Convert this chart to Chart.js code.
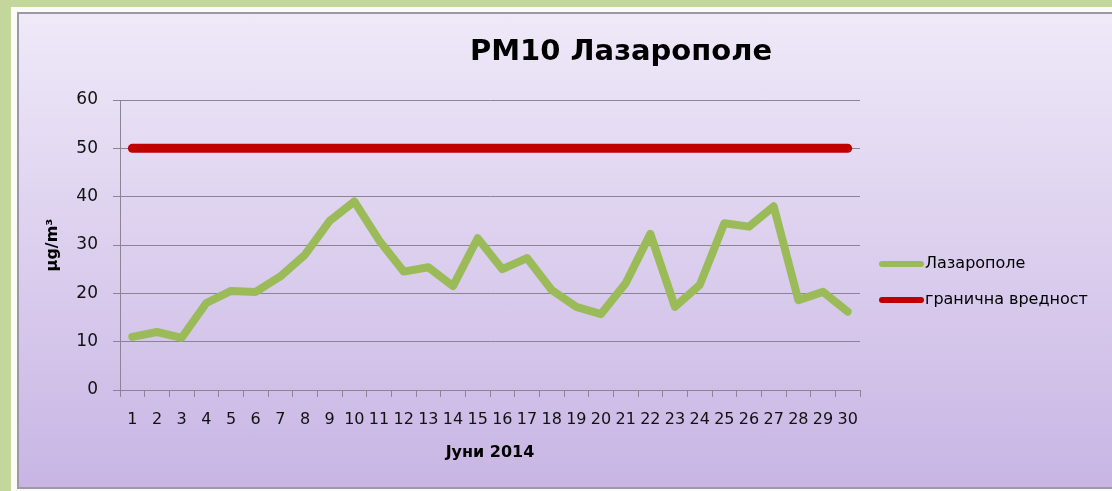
<!DOCTYPE html>
<html>
<head>
<meta charset="utf-8">
<script src="https://cdn.jsdelivr.net/npm/chart.js@4.4.1/dist/chart.umd.min.js"></script>
<style>
  html, body { margin: 0; padding: 0; }
  body { width: 1112px; height: 491px; background: #c3d69b; overflow: hidden; position: relative; }
  #white { position: absolute; left: 11px; top: 7px; width: 1101px; height: 484px; background: #fbfbf8; }
  #frame {
    position: absolute; left: 17px; top: 12px; width: 1095px; height: 473px;
    border-left: 2px solid #9c98a6; border-top: 2px solid #9c98a6; border-bottom: 2px solid #9c98a6;
    background: linear-gradient(#efe9f8, #c8b5e4);
  }
  #chart_div { position: absolute; left: 0; top: 0; width: 1093px; height: 473px; }
</style>
</head>
<body>
<div id="white"></div>
<div id="frame"><div id="chart_div"><canvas id="grafico"></canvas></div></div>
<script>
// дата
const dani = ['1','2','3','4','5','6','7','8','9','10','11','12','13','14','15',
  '16','17','18','19','20','21','22','23','24','25','26','27','28','29','30'];
const lazaropole = [11, 12, 10.8, 18, 20.5, 20.3, 23.5, 28, 35, 39, 31, 24.5, 25.4, 21.5, 31.4,
  25, 27.3, 20.7, 17.2, 15.7, 22.1, 32.3, 17.2, 21.7, 34.5, 33.8, 38, 18.6, 20.3, 16.2];
const granica = [50, 50, 50, 50, 50, 50, 50, 50, 50, 50, 50, 50, 50, 50, 50,
  50, 50, 50, 50, 50, 50, 50, 50, 50, 50, 50, 50, 50, 50, 50];
const yTicks = [0, 10, 20, 30, 40, 50, 60];

const naslov = 'PM10 Лазарополе';
const fontFam = '"DejaVu Sans", sans-serif';

// naslov i legenda se crtaat rachno
const naslovLegenda = {
  id: 'naslovLegenda',
  afterDraw(chart) {
    const ctx = chart.ctx;
    ctx.save();
    ctx.fillStyle = '#000';
    ctx.font = 'bold 29px ' + fontFam;
    ctx.textAlign = 'center';
    ctx.textBaseline = 'middle';
    ctx.fillText(naslov, 602, 38);

    ctx.font = '16px ' + fontFam;
    ctx.textAlign = 'left';
    chart.data.datasets.forEach((ds, i) => {
      const y = 250 + i * 36;
      ctx.strokeStyle = ds.borderColor;
      ctx.lineWidth = 6;
      ctx.lineCap = 'round';
      ctx.beginPath();
      ctx.moveTo(863, y);
      ctx.lineTo(902, y);
      ctx.stroke();
      ctx.fillText(ds.label, 906, y);
    });
    ctx.restore();
  }
};

const ctx = document.getElementById('grafico').getContext('2d');
new Chart(ctx, {
  type: 'line',
  data: {
    labels: dani,
    datasets: [{
      label: 'Лазарополе',
      data: lazaropole,
      borderColor: '#9bbb59',
      borderWidth: 8,
      borderJoinStyle: 'round',
      borderCapStyle: 'round',
      pointRadius: 0,
      tension: 0
    }, {
      label: 'гранична вредност',
      data: granica,
      borderColor: '#c00000',
      borderWidth: 9,
      borderCapStyle: 'round',
      pointRadius: 0
    }]
  },
  options: {
    responsive: true,
    maintainAspectRatio: false,
    animation: false,
    layout: { padding: { top: 86, right: 252, bottom: 0, left: 0 } },
    plugins: {
      legend: { display: false },
      title: { display: false },
      tooltip: { enabled: false }
    },
    scales: {
      x: {
        offset: true,
        grid: { offset: true, drawOnChartArea: false, drawTicks: true, tickLength: 7, color: '#8a8494' },
        border: { display: true, color: '#8a8494' },
        ticks: {
          autoSkip: false, maxRotation: 0, padding: 13, color: '#111',
          font: { family: fontFam, size: 16 }
        },
        title: {
          display: true, text: 'Јуни 2014', color: '#000',
          font: { family: fontFam, size: 16, weight: 'bold' },
          padding: { top: 4, bottom: 25 }
        },
        afterFit(scale) { scale.height = 97; }
      },
      y: {
        min: 0, max: 60,
        afterBuildTicks(scale) { scale.ticks = yTicks.map(v => ({ value: v })); },
        grid: { color: '#8a8494', tickLength: 7, drawTicks: true },
        border: { display: true, color: '#8a8494' },
        ticks: {
          padding: 15, color: '#111',
          font: { family: fontFam, size: 17 }
        },
        title: {
          display: true, text: 'µg/m³', color: '#000',
          font: { family: fontFam, size: 16, weight: 'bold' },
          padding: { top: 24, bottom: 0 }
        },
        afterFit(scale) { scale.width = 101; }
      }
    }
  },
  plugins: [naslovLegenda]
});
</script>
</body>
</html>
